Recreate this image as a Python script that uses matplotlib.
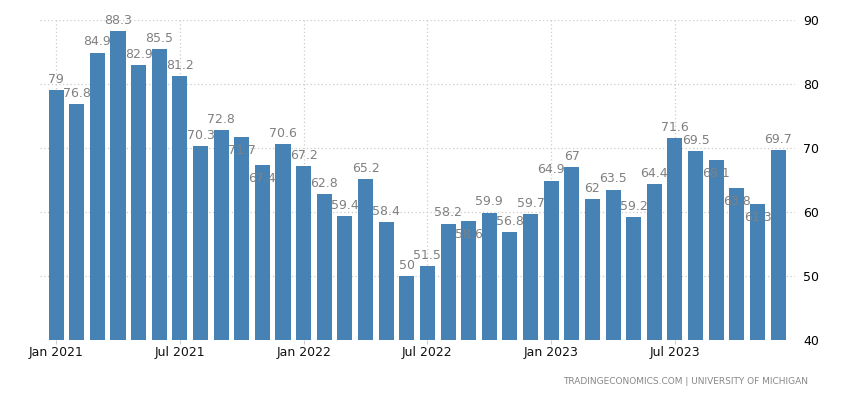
import matplotlib.pyplot as plt

months = ['Jan 2021', 'Feb 2021', 'Mar 2021', 'Apr 2021', 'May 2021', 'Jun 2021',
          'Jul 2021', 'Aug 2021', 'Sep 2021', 'Oct 2021', 'Nov 2021', 'Dec 2021',
          'Jan 2022', 'Feb 2022', 'Mar 2022', 'Apr 2022', 'May 2022', 'Jun 2022',
          'Jul 2022', 'Aug 2022', 'Sep 2022', 'Oct 2022', 'Nov 2022', 'Dec 2022',
          'Jan 2023', 'Feb 2023', 'Mar 2023', 'Apr 2023', 'May 2023', 'Jun 2023',
          'Jul 2023', 'Aug 2023', 'Sep 2023', 'Oct 2023', 'Nov 2023', 'Dec 2023']
values = [79, 76.8, 84.9, 88.3, 82.9, 85.5, 81.2, 70.3, 72.8, 71.7, 67.4, 70.6,
          67.2, 62.8, 59.4, 65.2, 58.4, 50, 51.5, 58.2, 58.6, 59.9, 56.8, 59.7,
          64.9, 67, 62, 63.5, 59.2, 64.4, 71.6, 69.5, 68.1, 63.8, 61.3, 69.7]
# labels that got pushed down into the bar in the original
inside = ['Oct 2021', 'Nov 2021', 'Sep 2022', 'Sep 2023', 'Oct 2023', 'Nov 2023']
tick_labels = ['Jan 2021', 'Jul 2021', 'Jan 2022', 'Jul 2022', 'Jan 2023', 'Jul 2023']

dpi = 100
fig = plt.figure(figsize=(850 / dpi, 400 / dpi), dpi=dpi)
ax = fig.add_axes([40 / 850, 60 / 400, 755 / 850, 320 / 400])

x = list(range(len(months)))
ax.bar(x, [v - 40 for v in values], bottom=40, width=0.73, color='#4682b4', zorder=2)

for i, v in enumerate(values):
    label = '{:g}'.format(v)
    if months[i] in inside:
        ax.annotate(label, (i, v), xytext=(0, -5), textcoords='offset points',
                    ha='center', va='top', fontsize=9, color='#808080', zorder=3)
    else:
        ax.annotate(label, (i, v), xytext=(0, 3), textcoords='offset points',
                    ha='center', va='bottom', fontsize=9, color='#808080', zorder=3)

ax.set_xlim(-0.78, 35.82)
ax.set_ylim(40, 90)
ax.set_yticks([40, 50, 60, 70, 80, 90])
ax.yaxis.tick_right()
ax.tick_params(axis='y', length=0, pad=6, labelsize=9, labelcolor='#000000')
ax.set_xticks([months.index(t) for t in tick_labels])
ax.set_xticklabels(tick_labels)
ax.tick_params(axis='x', length=3, color='#cccccc', pad=1, labelsize=9, labelcolor='#111111')

ax.grid(True, color='#cccccc', linestyle=(0, (1, 2)), linewidth=0.9, zorder=0)
for s in ax.spines.values():
    s.set_visible(False)

fig.text(808 / 850, 1 - 382 / 400, 'TRADINGECONOMICS.COM | UNIVERSITY OF MICHIGAN',
         ha='right', va='center', fontsize=6.5, color='#888888')

plt.savefig('out.png', dpi=dpi)
